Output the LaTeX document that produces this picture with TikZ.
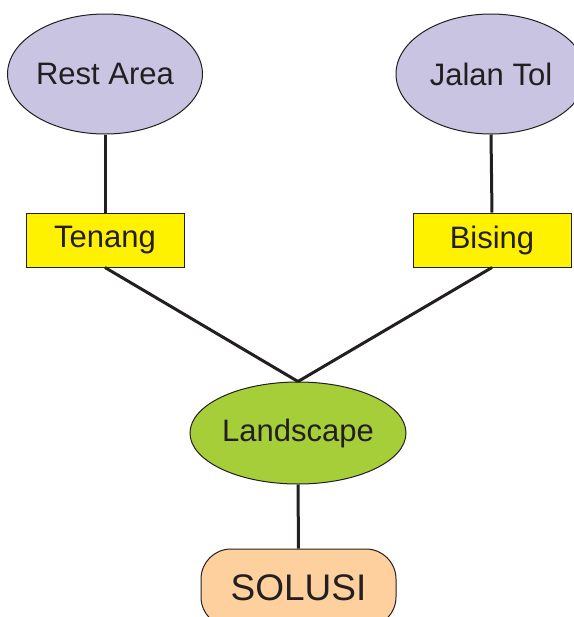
\documentclass[tikz,border=0pt]{standalone}
\usepackage{fontspec}
\setmainfont{Liberation Sans}
\usetikzlibrary{shapes.geometric}
\definecolor{inkdark}{HTML}{231F20}
\definecolor{lavender}{HTML}{C8C4E1}
\definecolor{signyellow}{HTML}{FFF200}
\definecolor{leafgreen}{HTML}{A6CE39}
\definecolor{peach}{HTML}{FDD09E}
\tikzset{
  place/.style={ellipse, draw=inkdark, line width=0.5pt, fill=lavender, inner sep=0pt,
    minimum width=95pt, minimum height=60pt, text=inkdark, font=\fontsize{15.5}{18}\selectfont},
  tag/.style={rectangle, draw=inkdark, line width=0.5pt, fill=signyellow, inner sep=0pt,
    minimum width=79pt, minimum height=27pt, text=inkdark, font=\fontsize{15.5}{18}\selectfont},
  hub/.style={ellipse, draw=inkdark, line width=0.5pt, fill=leafgreen, inner sep=0pt,
    minimum width=108pt, minimum height=51pt, text=inkdark, font=\fontsize{15.5}{18}\selectfont},
  answer/.style={rectangle, rounded corners=15pt, draw=inkdark, line width=0.5pt, fill=peach,
    inner sep=0pt, minimum width=97.5pt, minimum height=39pt, text=inkdark,
    font=\fontsize{18.5}{22}\selectfont},
  link/.style={draw=inkdark, line width=1.5pt}
}
\begin{document}
\begin{tikzpicture}[x=0.5pt, y=-0.5pt]
  \useasboundingbox (0,0) rectangle (574,617);
  \clip (0,0) rectangle (574,617);
  % nodes
  \node[place] (rest) at (105,74) {Rest Area};
  \node[place] (tol) at (491,74) {Jalan Tol};
  \node[tag] (tenang) at (105,240) {Tenang};
  \node[tag] (bising) at (492,240) {Bising};
  \node[hub] (land) at (298,433) {Landscape};
  \node[answer] (solusi) at (298.5,588) {SOLUSI};
  % connectors
  \draw[link] (rest.south) -- (tenang.north);
  \draw[link] (tol.south) -- (bising.north);
  \draw[link] (tenang.south) -- (land.north);
  \draw[link] (bising.south) -- (land.north);
  \draw[link] (land.south) -- (solusi.north);
\end{tikzpicture}
\end{document}
